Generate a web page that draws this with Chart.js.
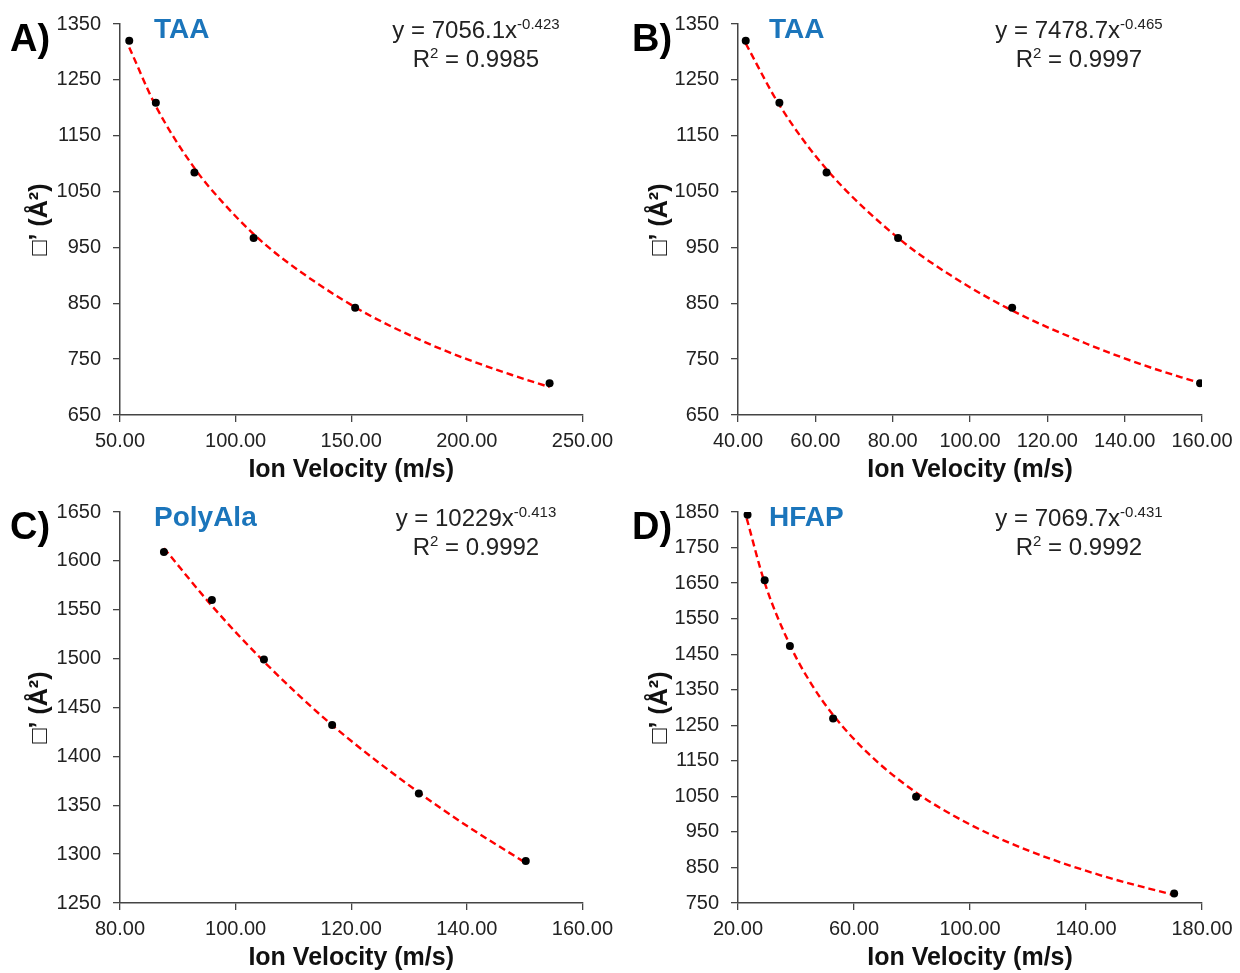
<!DOCTYPE html>
<html>
<head>
<meta charset="utf-8">
<script src="https://cdn.jsdelivr.net/npm/chart.js@4.4.0/dist/chart.umd.min.js"></script>
<style>
  body { margin:0; width:1240px; height:973px; overflow:hidden; background:#fff;
         font-family:"Liberation Sans", Arial, sans-serif; }
  .panel { position:absolute; width:620px; height:485px; }
  .panel canvas { position:absolute; left:0; top:0; }
  .tag  { position:absolute; font-weight:bold; font-size:38px; line-height:1; color:#000; }
  .name { position:absolute; font-weight:bold; font-size:28px; line-height:1; color:#1b75bb; }
  .eq   { position:absolute; width:260px; text-align:center; font-size:24px; line-height:29px; color:#222; }
  .eq sup { font-size:15px; line-height:0; vertical-align:9px; }
</style>
</head>
<body>
<div class="panel" style="left:0;top:0"><canvas id="chA" width="620" height="485"></canvas></div>
<div class="panel" style="left:620px;top:0"><canvas id="chB" width="620" height="485"></canvas></div>
<div class="panel" style="left:0;top:488px"><canvas id="chC" width="620" height="485"></canvas></div>
<div class="panel" style="left:620px;top:488px"><canvas id="chD" width="620" height="485"></canvas></div>

<div class="tag" style="left:10px;top:19px">A)</div>
<div class="tag" style="left:632px;top:19px">B)</div>
<div class="tag" style="left:10px;top:507px">C)</div>
<div class="tag" style="left:632px;top:507px">D)</div>

<div class="name" style="left:154px;top:15px">TAA</div>
<div class="name" style="left:769px;top:15px">TAA</div>
<div class="name" style="left:154px;top:503px">PolyAla</div>
<div class="name" style="left:769px;top:503px">HFAP</div>

<div class="eq" style="left:346px;top:15px">y = 7056.1x<sup>-0.423</sup><br>R<sup>2</sup> = 0.9985</div>
<div class="eq" style="left:949px;top:15px">y = 7478.7x<sup>-0.465</sup><br>R<sup>2</sup> = 0.9997</div>
<div class="eq" style="left:346px;top:503px">y = 10229x<sup>-0.413</sup><br>R<sup>2</sup> = 0.9992</div>
<div class="eq" style="left:949px;top:503px">y = 7069.7x<sup>-0.431</sup><br>R<sup>2</sup> = 0.9992</div>

<script>
const velA = [54.0, 65.5, 82.2, 107.8, 151.7, 235.8];
const ccsA = [1320, 1209, 1084, 967, 842, 707];
const velB = [42.0, 50.7, 62.9, 81.4, 110.9, 159.5];
const ccsB = [1320, 1209, 1084, 967, 842, 707];
const velC = [87.6, 95.9, 104.9, 116.7, 131.7, 150.2];
const ccsC = [1609, 1560, 1499, 1432, 1362, 1293];
const velD = [23.3, 29.2, 37.9, 52.8, 81.4, 170.4];
const ccsD = [1842, 1658, 1473, 1269, 1049, 777];

// red dashed trend line in each panel
const trendXA = [54.0, 65.5, 82.2, 95, 107.8, 120, 151.7, 180, 200, 220, 235.8];
const trendYA = [1308, 1203, 1092, 1028, 974, 931, 843, 784, 750, 721, 700];
const trendXB = [42.0, 50.7, 62.9, 81.4, 95, 110.9, 130, 145, 159.5];
const trendYB = [1315, 1205, 1090, 967, 900, 837, 778, 739, 707];
const trendXC = [87.6, 95.9, 104.9, 116.7, 131.7, 140, 150.2];
const trendYC = [1613, 1554, 1497, 1432, 1363, 1329, 1291];
const trendXD = [23.0, 29.2, 37.9, 45, 52.8, 65, 81.4, 100, 120, 145, 170.4];
const trendYD = [1832, 1651, 1476, 1370, 1279, 1170, 1061, 971, 898, 828, 772];

// axis ranges [min, max, step]
const xRangeA = [50, 250, 50],  yRangeA = [650, 1350, 100];
const xRangeB = [40, 160, 20],  yRangeB = [650, 1350, 100];
const xRangeC = [80, 160, 20],  yRangeC = [1250, 1650, 50];
const xRangeD = [20, 180, 40],  yRangeD = [750, 1850, 100];

const xTitle = 'Ion Velocity (m/s)';
const yTitle = '\u25A1\u2019 (\u00C5\u00B2)';

Chart.defaults.font.family = '"Liberation Sans", Arial, sans-serif';

function pts(xs, ys){
    let out = [];
    for(let i = 0; i < xs.length; i++){
        out.push({x: xs[i], y: ys[i]});
    }
    return out;
}

function makeChart(id, xs, ys, tx, ty, xr, yr, yw, padR){
    const axisCol = '#444';
    new Chart(document.getElementById(id), {
        type: 'scatter',
        data: {
            datasets: [
                {
                    data: pts(tx, ty),
                    showLine: true,
                    borderColor: '#ff0000',
                    borderWidth: 2.4,
                    borderDash: [7, 4],
                    pointRadius: 0,
                    cubicInterpolationMode: 'monotone',
                    order: 2
                },
                {
                    data: pts(xs, ys),
                    pointRadius: 4,
                    backgroundColor: '#000',
                    borderColor: '#000',
                    borderWidth: 0,
                    order: 1
                }
            ]
        },
        options: {
            responsive: false,
            animation: false,
            layout: { padding: { left: 0, right: padR, top: 24, bottom: 0 } },
            plugins: { legend: { display: false }, tooltip: { enabled: false } },
            scales: {
                x: {
                    type: 'linear',
                    min: xr[0], max: xr[1],
                    ticks: { stepSize: xr[2], autoSkip: false, maxRotation: 0, padding: 7,
                             color: '#222', font: { size: 20 },
                             callback: v => v.toFixed(2) },
                    grid: { display: true, drawOnChartArea: false, drawTicks: true,
                            tickLength: 7, color: axisCol, lineWidth: 1.3 },
                    border: { display: true, color: axisCol, width: 1.5 },
                    title: { display: true, text: xTitle, color: '#111',
                             font: { size: 25, weight: 'bold' }, padding: 0 },
                    afterFit(s){ s.height = 70; }
                },
                y: {
                    type: 'linear',
                    min: yr[0], max: yr[1],
                    ticks: { stepSize: yr[2], autoSkip: false, padding: 12,
                             color: '#222', font: { size: 20 },
                             callback: v => String(v) },
                    grid: { display: true, drawOnChartArea: false, drawTicks: true,
                            tickLength: 7, color: axisCol, lineWidth: 1.3 },
                    border: { display: true, color: axisCol, width: 1.5 },
                    title: { display: true, text: yTitle, color: '#111',
                             font: { size: 25, weight: 'bold' }, padding: { top: 25, bottom: 0 } },
                    afterFit(s){ s.width = yw; }
                }
            }
        }
    });
}

makeChart('chA', velA, ccsA, trendXA, trendYA, xRangeA, yRangeA, 120, 36);
makeChart('chB', velB, ccsB, trendXB, trendYB, xRangeB, yRangeB, 118, 38);
makeChart('chC', velC, ccsC, trendXC, trendYC, xRangeC, yRangeC, 120, 36);
makeChart('chD', velD, ccsD, trendXD, trendYD, xRangeD, yRangeD, 118, 38);
</script>
</body>
</html>
